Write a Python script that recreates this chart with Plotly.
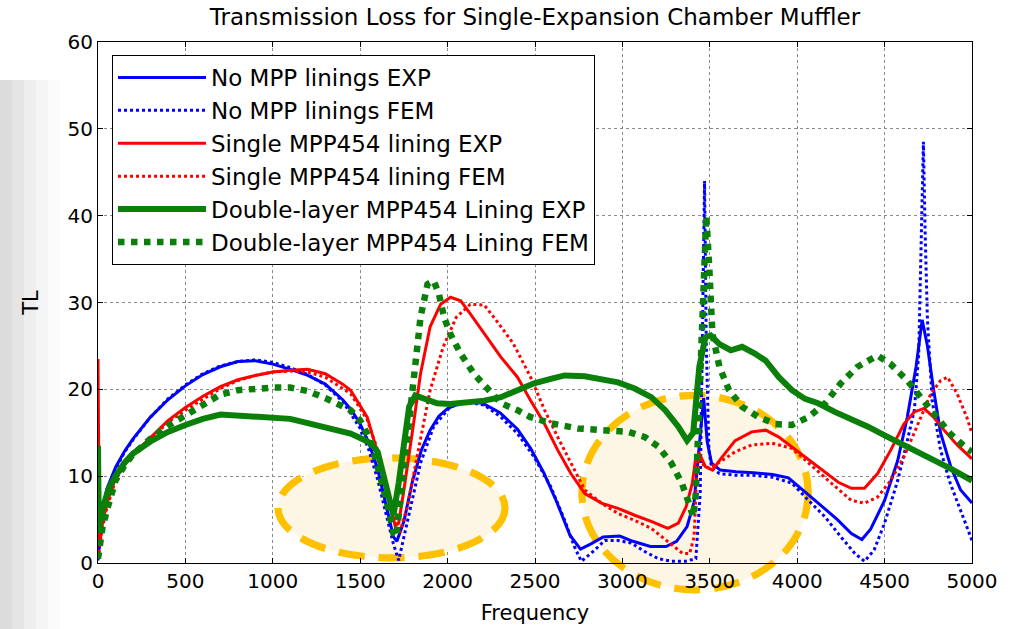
import plotly.graph_objects as go

# ---------------- data ----------------
f_blue_exp = [0, 10, 25, 50, 100, 150, 200, 300, 400, 500, 600, 700, 800, 900, 1000, 1100, 1200, 1300, 1400, 1450,
              1500, 1550, 1600, 1650, 1690, 1710, 1750, 1800, 1850, 1900, 1950, 2000, 2100, 2200, 2300, 2400, 2475,
              2550, 2625, 2700, 2760, 2820, 2890, 2985, 3060, 3160, 3250, 3310, 3370, 3410, 3440, 3465, 3485, 3510,
              3560, 3650, 3750, 3860, 3950, 4010, 4120, 4230, 4310, 4370, 4420, 4500, 4575, 4630, 4680, 4715, 4745,
              4780, 4820, 4880, 4935, 5000]
tl_blue_exp = [0.5, 3, 6, 8.5, 11, 12.8, 14.3, 16.8, 18.8, 20.4, 21.7, 22.6, 23.2, 23.3, 22.9, 22.3, 21.6, 20.6, 18.8,
               17.6, 16, 13.8, 10.8, 6.5, 3, 2.5, 4.8, 9.5, 13, 15.3, 16.9, 17.8, 18.6, 18.4, 17.3, 15.4, 13.2, 10.4,
               7, 3.2, 1.6, 2.2, 3, 3.1, 2.5, 1.9, 1.9, 2.5, 4.2, 7, 14, 19, 14, 11.5, 10.7, 10.5, 10.4, 10.2, 9.8,
               8.8, 6.9, 5, 3.4, 2.7, 3.9, 7.2, 11.8, 16.8, 22.6, 28, 25, 20, 15, 11, 8.4, 6.9]

f_blue_fem = [0, 25, 50, 100, 150, 200, 300, 400, 500, 600, 700, 800, 900, 1000, 1100, 1200, 1300, 1400, 1500, 1550,
              1600, 1650, 1690, 1720, 1750, 1790, 1845, 1920, 2015, 2110, 2210, 2305, 2400, 2495, 2590, 2670, 2725,
              2765, 2820, 2900, 2975, 3050, 3130, 3205, 3280, 3360, 3420, 3445, 3460, 3470, 3480, 3495, 3510, 3555,
              3650, 3740, 3855, 3970, 4065, 4160, 4250, 4330, 4385, 4440, 4500, 4575, 4630, 4670, 4695, 4712, 4722,
              4732, 4745, 4772, 4820, 4875, 4935, 5000]
tl_blue_fem = [0.3, 5, 8, 10.8, 12.7, 14.2, 16.8, 18.9, 20.5, 21.8, 22.7, 23.2, 23.4, 23.1, 22.5, 21.7, 20.5, 18.6,
               15.5, 13, 9.6, 5.5, 2.2, 0.3, 3, 6.5, 11.5, 15.7, 18, 18.5, 18.2, 16.8, 14.9, 12.2, 8.8, 4.9, 1.9,
               0.2, 1.1, 2.6, 2.6, 2.3, 1.3, 0.5, 0.2, 0.2, 0.5, 8, 30, 44, 25, 13, 11, 10.3, 10.1, 10.1, 9.9, 9.2,
               7.2, 5.3, 3, 1.1, 0.2, 1.5, 4.6, 9.5, 14.1, 17.6, 24, 38, 48.5, 38, 28, 18.7, 13, 9.2, 6.1, 2.6]

f_red_exp = [0, 8, 25, 50, 100, 150, 200, 300, 400, 500, 600, 700, 800, 900, 1000, 1100, 1200, 1300, 1400, 1445,
             1540, 1595, 1650, 1680, 1700, 1720, 1750, 1805, 1845, 1900, 1960, 2017, 2075, 2130, 2210, 2305, 2400,
             2475, 2555, 2630, 2705, 2785, 2880, 2975, 3070, 3165, 3260, 3320, 3365, 3400, 3420, 3440, 3475, 3515,
             3570, 3645, 3740, 3820, 3895, 4005, 4120, 4235, 4310, 4385, 4460, 4535, 4610, 4670, 4725, 4780, 4840,
             4915, 5000]
tl_red_exp = [23.5, 2, 4.5, 6.8, 9.8, 11.3, 12.5, 14.5, 16.4, 17.9, 19.2, 20.3, 21.1, 21.6, 22, 22.2, 22.3, 21.8,
              20.6, 19.9, 16.8, 13, 8.5, 5.8, 4.3, 4.6, 8.4, 16, 21.8, 27.2, 29.8, 30.6, 30.2, 28.7, 26.4, 23.7, 21.4,
              18.7, 16, 13, 10.3, 8, 6.9, 6.3, 5.5, 4.8, 4.0, 4.6, 6.5, 9.2, 12.2, 12.6, 11.1, 10.7, 12.2, 14.1,
              15.1, 15.3, 14.5, 12.8, 11.1, 9.3, 8.6, 8.6, 10.3, 13, 16, 17.4, 17.8, 16.8, 15.3, 13.6, 12.0]

f_red_fem = [0, 25, 50, 100, 150, 200, 300, 400, 500, 600, 700, 800, 900, 1000, 1100, 1200, 1300, 1400, 1445, 1540,
             1600, 1650, 1700, 1725, 1770, 1825, 1900, 1975, 2050, 2130, 2210, 2280, 2375, 2475, 2555, 2630, 2705,
             2785, 2880, 2975, 3070, 3165, 3270, 3345, 3385, 3410, 3425, 3440, 3470, 3500, 3555, 3645, 3740, 3855,
             3970, 4080, 4195, 4310, 4385, 4460, 4535, 4610, 4685, 4765, 4820, 4860, 4915, 4970, 5000]
tl_red_fem = [0.5, 4, 6.3, 9.5, 11.2, 12.5, 14.3, 16.2, 17.6, 18.9, 20.1, 21, 21.6, 22, 22.1, 22, 21.4, 20.1, 19.5,
              16.5, 13, 9, 5, 3.4, 6.5, 12.2, 19.9, 24.9, 28.3, 29.8, 29.7, 27.9, 25.3, 21.4, 17.6, 14.5, 11.5, 8.4,
              6.9, 5.7, 4.9, 4, 2.3, 1.1, 1.1, 3, 10, 12.5, 11, 11, 11.6, 12.8, 13.6, 13.8, 13.2, 11.3, 9.2, 7.2,
              6.9, 7.6, 9.5, 12.2, 15.7, 19.5, 21, 21.4, 19.5, 16.8, 14.9]

f_green_exp = [0, 5, 15, 30, 60, 100, 150, 200, 300, 400, 500, 600, 700, 800, 900, 1000, 1100, 1200, 1300, 1400,
               1445, 1500, 1560, 1600, 1635, 1670, 1690, 1720, 1750, 1780, 1815, 1865, 1940, 2015, 2115, 2210, 2305,
               2400, 2495, 2590, 2670, 2785, 2880, 2975, 3070, 3165, 3245, 3320, 3370, 3405, 3440, 3475, 3505, 3555,
               3620, 3685, 3760, 3820, 3895, 3970, 4045, 4120, 4215, 4310, 4405, 4500, 4590, 4685, 4780, 4875, 5000]
tl_green_exp = [13.5, 3.5, 5, 6.5, 8.5, 10, 11.5, 12.6, 14, 15.1, 15.9, 16.6, 17.1, 17, 16.9, 16.8, 16.6, 16.1,
                15.6, 15.2, 14.9, 14.4, 13.8, 12.8, 9.9, 6.9, 5.5, 9.2, 13.8, 18, 19.3, 18.9, 18.4, 18.3, 18.5,
                18.7, 19.1, 19.9, 20.7, 21.2, 21.6, 21.5, 21.2, 20.8, 20.1, 19.1, 17.6, 15.7, 14.1, 15, 22.6, 26,
                26.2, 25.2, 24.5, 24.9, 24.1, 23.3, 21.4, 19.9, 18.9, 18.4, 17.4, 16.6, 15.7, 14.7, 13.8, 12.8,
                11.9, 10.9, 9.5]

f_green_fem = [0, 10, 25, 50, 100, 150, 200, 300, 400, 500, 600, 700, 800, 900, 1000, 1100, 1200, 1300, 1400, 1445,
               1500, 1560, 1615, 1655, 1690, 1705, 1730, 1770, 1805, 1845, 1885, 1920, 1950, 1980, 2015, 2075, 2150,
               2230, 2305, 2400, 2475, 2590, 2745, 2880, 3035, 3130, 3205, 3280, 3340, 3380, 3405, 3420, 3440, 3460,
               3480, 3497, 3515, 3555, 3610, 3685, 3780, 3875, 3970, 4065, 4160, 4250, 4345, 4460, 4535, 4630, 4705,
               4780, 4875, 4970, 5000]
tl_green_fem = [0.5, 2, 4, 6, 9.5, 11.2, 12.5, 14.3, 15.8, 17, 18.3, 19.4, 19.9, 20.1, 20.2, 20.2, 19.8, 19, 17.9,
                17.6, 16.4, 14.1, 9.9, 6.9, 3.4, 3, 7.2, 14.9, 21.4, 28.3, 32.1, 32.5, 31, 28.3, 26.4, 24.1, 21.8,
                19.9, 18.4, 17.6, 16.8, 16.1, 15.5, 15.3, 15.1, 14.5, 13.4, 11.5, 9.2, 6.9, 5.3, 8, 20, 32, 40, 34,
                26.4, 22.6, 19.9, 18, 16.8, 16, 15.9, 16.8, 18.4, 20.7, 22.6, 23.9, 22.9, 21, 19.1, 17.2, 14.9, 13.2,
                12.8]

series_names = ["No MPP linings EXP", "No MPP linings FEM", "Single MPP454 lining EXP",
                "Single MPP454 lining FEM", "Double-layer MPP454 Lining EXP", "Double-layer MPP454 Lining FEM"]

x_ticks = list(range(0, 5001, 500))
y_ticks = list(range(0, 61, 10))
x_range = [0, 5000]
y_range = [0, 60]

# highlighted regions (data units): (x0, x1, y0, y1)
ellipse_a = (1030, 2328, 0.6, 12.1)
ellipse_b = (2769, 4062, -3.1, 19.3)

# ---------------- figure ----------------
BLUE, RED, GREEN = "#0000ff", "#ff0000", "#0a800a"
FONT = "DejaVu Sans"

specs = [
    (f_blue_exp, tl_blue_exp, BLUE, 3, "solid"),
    (f_blue_fem, tl_blue_fem, BLUE, 3, "dot"),
    (f_red_exp, tl_red_exp, RED, 3, "solid"),
    (f_red_fem, tl_red_fem, RED, 3, "dot"),
    (f_green_exp, tl_green_exp, GREEN, 6, "solid"),
    (f_green_fem, tl_green_fem, GREEN, 6.5, "dot"),
]

fig = go.Figure()
for i, (fx, fy, col, w, dash) in enumerate(specs):
    fig.add_trace(go.Scatter(x=fx, y=fy, mode="lines", name=series_names[i],
                             line=dict(color=col, width=w, dash=dash)))

ELL_FILL = "#fdf6e5"
ELL_LINE = dict(color="#ffc000", width=7, dash="26px,14px")


def to_dom(e):
    x0, x1, y0, y1 = e
    return ((x0 - x_range[0]) / (x_range[1] - x_range[0]), (x1 - x_range[0]) / (x_range[1] - x_range[0]),
            (y0 - y_range[0]) / (y_range[1] - y_range[0]), (y1 - y_range[0]) / (y_range[1] - y_range[0]))


shapes = []
# left slide-background gradient (decoration)
grays = ["#dcdcdc", "#e5e5e5", "#eeeeee", "#f5f5f5", "#fbfbfb"]
for k, g in enumerate(grays):
    shapes.append(dict(type="rect", xref="paper", yref="paper", layer="below",
                       x0=(-98 + 12 * k) / 874, x1=(-98 + 12 * (k + 1)) / 874,
                       y0=-66 / 521, y1=(563 - 80) / 521, fillcolor=g, line=dict(width=0)))
for e in (ellipse_a, ellipse_b):
    dx0, dx1, dy0, dy1 = to_dom(e)
    # part outside the plot area (paper refs, under everything)
    shapes.append(dict(type="circle", xref="paper", yref="paper", layer="below",
                       x0=dx0, x1=dx1, y0=dy0, y1=dy1, fillcolor=ELL_FILL, line=ELL_LINE))
    # part inside the plot area (above grid, below traces)
    shapes.append(dict(type="circle", xref="x", yref="y", layer="between",
                       x0=e[0], x1=e[1], y0=e[2], y1=e[3], fillcolor=ELL_FILL, line=ELL_LINE))

axis_common = dict(showline=True, linecolor="black", linewidth=1, mirror="ticks", ticks="inside", ticklen=5,
                   tickcolor="black", showgrid=True, gridcolor="#8a8a8a", griddash="dot", gridwidth=1,
                   zeroline=False, automargin=False, tickfont=dict(family=FONT, size=20, color="black"))

fig.update_layout(
    width=1026, height=629,
    margin=dict(l=98, r=54, t=42, b=66),
    paper_bgcolor="white", plot_bgcolor="rgba(0,0,0,0)",
    font=dict(family=FONT, color="black"),
    title=dict(text="Transmission Loss for Single-Expansion Chamber Muffler", x=0.5, xref="paper",
               y=1 - 17 / 629, yref="container", yanchor="middle", xanchor="center",
               font=dict(family=FONT, size=23, color="black")),
    xaxis=dict(range=x_range, tickvals=x_ticks, ticktext=[str(v) for v in x_ticks],
               title=dict(text="Frequency", font=dict(family=FONT, size=21), standoff=13), **axis_common),
    yaxis=dict(range=y_range, tickvals=y_ticks, ticktext=[str(v) for v in y_ticks],
               title=dict(text="TL", font=dict(family=FONT, size=21), standoff=23), **axis_common),
    legend=dict(x=14 / 874, y=(563 - 55) / 521, xanchor="left", yanchor="top", bgcolor="white",
                bordercolor="black", borderwidth=1, font=dict(family=FONT, size=23, color="black"),
                itemwidth=88),
    shapes=shapes,
    showlegend=True,
)

fig.write_html("out.html")
